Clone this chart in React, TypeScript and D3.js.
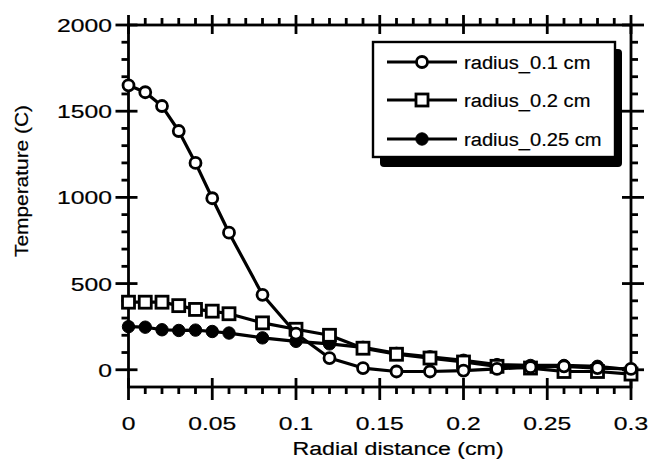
import React from 'react';
import * as d3 from 'd3';

const xValues = [0, 0.01, 0.02, 0.03, 0.04, 0.05, 0.06, 0.08, 0.1, 0.12, 0.14, 0.16, 0.18, 0.2, 0.22, 0.24, 0.26, 0.28, 0.3];
const radius01 = [1650, 1610, 1530, 1385, 1200, 995, 795, 435, 210, 68, 10, -10, -10, -5, 5, 15, 20, 10, 5];
const radius02 = [392, 392, 392, 372, 350, 340, 325, 272, 235, 200, 125, 90, 68, 45, 20, 10, -10, -10, -25];
const radius025 = [250, 247, 232, 228, 230, 222, 213, 185, 165, 150, 130, 95, 75, 55, 30, 25, 25, 20, 0];
const seriesNames = ['radius_0.1 cm', 'radius_0.2 cm', 'radius_0.25 cm'];
const xTicks = [0, 0.05, 0.1, 0.15, 0.2, 0.25, 0.3];
const xTickLabels = ['0', '0.05', '0.1', '0.15', '0.2', '0.25', '0.3'];
const yTicks = [0, 500, 1000, 1500, 2000];
const yTickLabels = ['0', '500', '1000', '1500', '2000'];
const xTitle = 'Radial distance (cm)';
const yTitle = 'Temperature (C)';

const FONT = 'Liberation Sans, Arial, Helvetica, sans-serif';

function SText({ x, y, sx = 1, anchor = 'middle', size = 19, rotate = 0, children }: any) {
  const t = `translate(${x},${y})` + (rotate ? ` rotate(${rotate})` : '') + ` scale(${sx},1)`;
  return (
    <text transform={t} textAnchor={anchor} fontFamily={FONT} fontSize={size} fill="#000" stroke="#000" strokeWidth={0.2}>
      {children}
    </text>
  );
}

function Marker({ kind, cx, cy }: any) {
  if (kind === 0) return <circle cx={cx} cy={cy} r={5.5} fill="#fff" stroke="#000" strokeWidth={2.8} />;
  if (kind === 1) return <rect x={cx - 6} y={cy - 6} width={12} height={12} fill="#fff" stroke="#000" strokeWidth={2.8} />;
  return <circle cx={cx} cy={cy} r={6.2} fill="#000" stroke="#000" strokeWidth={1} />;
}

export default function App() {
  const x = d3.scaleLinear().domain([0, 0.3]).range([128.5, 631]);
  const y = d3.scaleLinear().domain([-100, 2000]).range([387, 25]);
  const x0 = x(0), x1 = x(0.3), yb = y(-100), yt = y(2000);

  const series = [radius025, radius02, radius01];
  const kinds = [2, 1, 0];
  const line = d3.line<number>().x((_, i) => x(xValues[i])).y((d) => y(d));

  const xMinor = d3.range(1, 30).map((i) => i / 100).filter((v) => Math.abs(v * 20 - Math.round(v * 20)) > 1e-6);
  const yMinor = d3.range(0, 21).map((i) => i * 100).filter((v) => v % 500 !== 0);

  const sw = 2.8;
  const majOut = 13, majIn = 9, minOut = 7;

  const legendRows = [62, 100, 139];
  const lgKinds = [0, 1, 2];

  return (
    <svg width={651} height={463} style={{ position: 'absolute', left: 0, top: 0, background: '#fff' }}>
      <rect x={0} y={0} width={651} height={463} fill="#fff" />
      <rect x={x0} y={yt} width={x1 - x0} height={yb - yt} fill="none" stroke="#000" strokeWidth={sw} />
      {xTicks.map((v, i) => (
        <g key={'xt' + i}>
          <line x1={x(v)} x2={x(v)} y1={yb - majIn} y2={yb + majOut} stroke="#000" strokeWidth={sw} />
          <line x1={x(v)} x2={x(v)} y1={yt + majIn} y2={yt - majOut + 3} stroke="#000" strokeWidth={sw} />
          <SText x={x(v)} y={430} sx={1.3}>{xTickLabels[i]}</SText>
        </g>
      ))}
      {xMinor.map((v, i) => (
        <g key={'xm' + i}>
          <line x1={x(v)} x2={x(v)} y1={yb} y2={yb + minOut} stroke="#000" strokeWidth={sw} />
          <line x1={x(v)} x2={x(v)} y1={yt} y2={yt - minOut} stroke="#000" strokeWidth={sw} />
        </g>
      ))}
      {yTicks.map((v, i) => (
        <g key={'yt' + i}>
          <line x1={x0 - majOut} x2={x0 + majIn} y1={y(v)} y2={y(v)} stroke="#000" strokeWidth={sw} />
          <line x1={x1 - majIn} x2={x1 + majOut} y1={y(v)} y2={y(v)} stroke="#000" strokeWidth={sw} />
          <SText x={112} y={y(v) + 7} sx={1.3} anchor="end">{yTickLabels[i]}</SText>
        </g>
      ))}
      {yMinor.map((v, i) => (
        <g key={'ym' + i}>
          <line x1={x0 - minOut} x2={x0} y1={y(v)} y2={y(v)} stroke="#000" strokeWidth={sw} />
          <line x1={x1} x2={x1 + minOut} y1={y(v)} y2={y(v)} stroke="#000" strokeWidth={sw} />
        </g>
      ))}
      <SText x={398} y={455} sx={1.22}>{xTitle}</SText>
      <SText x={28} y={181} rotate={-90} sx={1.1}>{yTitle}</SText>

      {series.map((s, si) => (
        <g key={'s' + si}>
          <path d={line(s) || ''} fill="none" stroke="#000" strokeWidth={3.2} strokeLinejoin="round" />
          {s.map((v, i) => (
            <Marker key={i} kind={kinds[si]} cx={x(xValues[i])} cy={y(v)} />
          ))}
        </g>
      ))}

      <rect x={380} y={49} width={242} height={118} rx={4} fill="#000" />
      <rect x={373} y={42} width={242} height={115} fill="#fff" stroke="#000" strokeWidth={2.4} />
      {seriesNames.map((n, i) => (
        <g key={'lg' + i}>
          <line x1={387} x2={457} y1={legendRows[i]} y2={legendRows[i]} stroke="#000" strokeWidth={3.2} />
          <Marker kind={lgKinds[i]} cx={422} cy={legendRows[i]} />
          <SText x={464} y={legendRows[i] + 7} anchor="start" sx={1.06}>{n}</SText>
        </g>
      ))}
    </svg>
  );
}
